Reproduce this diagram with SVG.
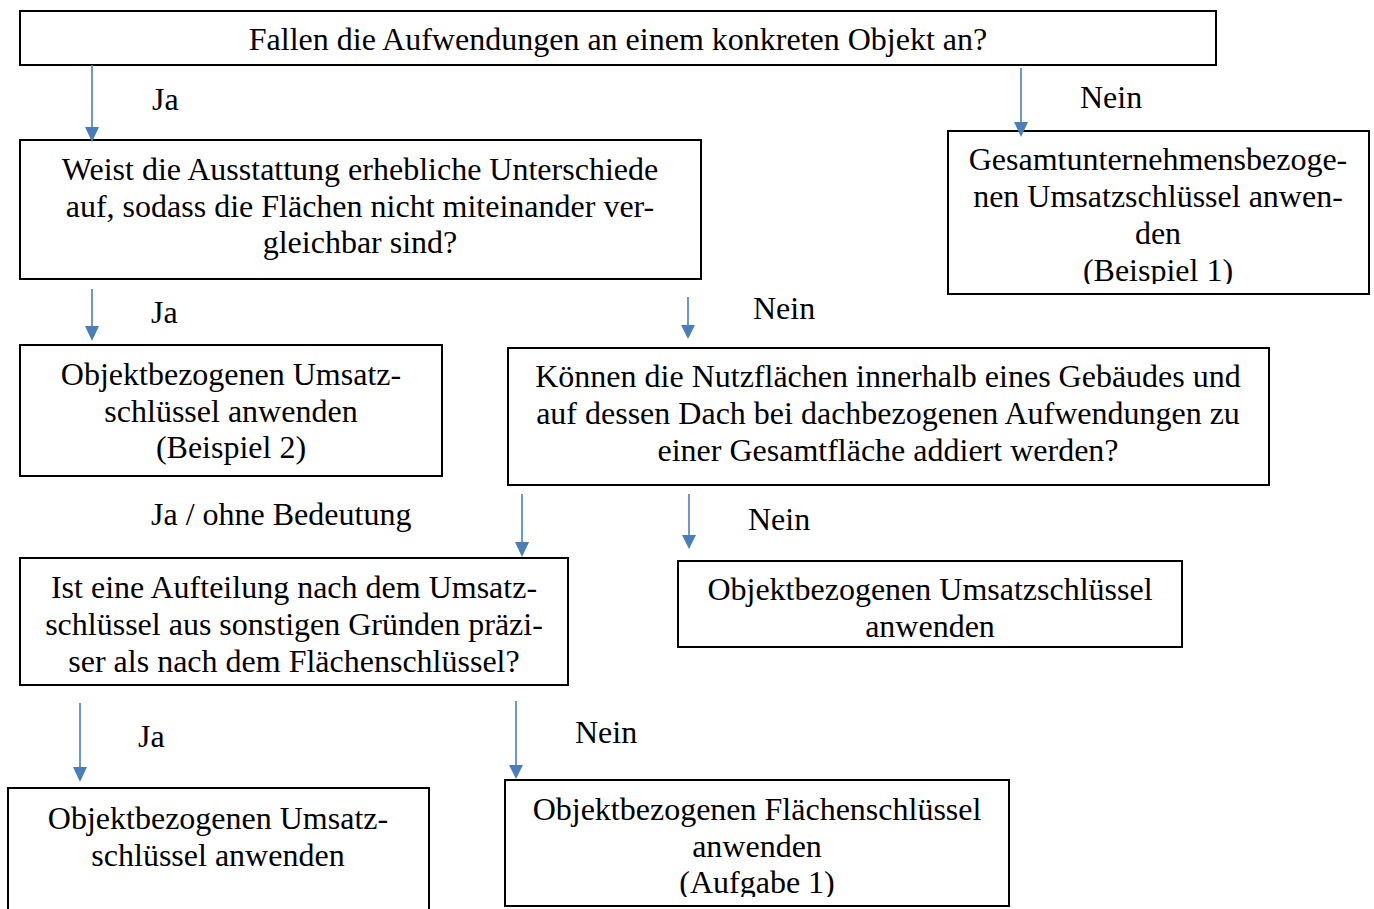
<svg xmlns="http://www.w3.org/2000/svg" width="1374" height="909" viewBox="0 0 1374 909">
<style>
.box{fill:#fff;stroke:#000;stroke-width:2}
.t{font-family:"Liberation Serif","Times New Roman",serif;font-size:32px;fill:#000}
.c{text-anchor:middle}
.arr{stroke:#4a7ebb;stroke-width:1.6;fill:none}
.head{fill:#4a7ebb}
</style>
<defs>
<clipPath id="clipG"><rect x="948" y="130" width="421" height="154"/></clipPath>
<clipPath id="clipF"><rect x="505" y="779" width="504" height="118"/></clipPath>
</defs>
<rect width="1374" height="909" fill="#fff"/>

<g id="n1">
<rect class="box" x="20" y="11" width="1196" height="54"/>
<text class="t c" x="618" y="50">Fallen die Aufwendungen an einem konkreten Objekt an?</text>
</g>

<g id="n2">
<rect class="box" x="20" y="140" width="681" height="139"/>
<text class="t c" x="360" y="180">Weist die Ausstattung erhebliche Unterschiede</text>
<text class="t c" x="360" y="217">auf, sodass die Flächen nicht miteinander ver-</text>
<text class="t c" x="360" y="253">gleichbar sind?</text>
</g>

<g id="n3">
<rect class="box" x="948" y="131" width="421" height="163"/>
<g clip-path="url(#clipG)">
<text class="t c" x="1158" y="170">Gesamtunternehmensbezoge-</text>
<text class="t c" x="1158" y="207">nen Umsatzschlüssel anwen-</text>
<text class="t c" x="1158" y="244">den</text>
<text class="t c" x="1158" y="281">(Beispiel 1)</text>
</g>
</g>

<g id="n4">
<rect class="box" x="20" y="345" width="422" height="131"/>
<text class="t c" x="231" y="385">Objektbezogenen Umsatz-</text>
<text class="t c" x="231" y="422">schlüssel anwenden</text>
<text class="t c" x="231" y="458">(Beispiel 2)</text>
</g>

<g id="n5">
<rect class="box" x="508" y="348" width="761" height="137"/>
<text class="t c" x="888" y="387">Können die Nutzflächen innerhalb eines Gebäudes und</text>
<text class="t c" x="888" y="424">auf dessen Dach bei dachbezogenen Aufwendungen zu</text>
<text class="t c" x="888" y="461">einer Gesamtfläche addiert werden?</text>
</g>

<g id="n6">
<rect class="box" x="20" y="558" width="548" height="127"/>
<text class="t c" x="294" y="598">Ist eine Aufteilung nach dem Umsatz-</text>
<text class="t c" x="294" y="635">schlüssel aus sonstigen Gründen präzi-</text>
<text class="t c" x="294" y="672">ser als nach dem Flächenschlüssel?</text>
</g>

<g id="n7">
<rect class="box" x="678" y="561" width="504" height="86"/>
<text class="t c" x="930" y="600">Objektbezogenen Umsatzschlüssel</text>
<text class="t c" x="930" y="637">anwenden</text>
</g>

<g id="n8">
<rect class="box" x="8" y="788" width="421" height="130"/>
<text class="t c" x="218" y="829">Objektbezogenen Umsatz-</text>
<text class="t c" x="218" y="866">schlüssel anwenden</text>
</g>

<g id="n9">
<rect class="box" x="505" y="780" width="504" height="126"/>
<g clip-path="url(#clipF)">
<text class="t c" x="757" y="820">Objektbezogenen Flächenschlüssel</text>
<text class="t c" x="757" y="857">anwenden</text>
<text class="t c" x="757" y="893">(Aufgabe 1)</text>
</g>
</g>

<g id="connectors">
<line class="arr" x1="92" y1="65" x2="92" y2="130"/>
<polygon class="head" points="85,127 99,127 92,142"/>
<line class="arr" x1="1021" y1="68" x2="1021" y2="125"/>
<polygon class="head" points="1014,122 1028,122 1021,137"/>
<line class="arr" x1="92" y1="289" x2="92" y2="330"/>
<polygon class="head" points="85,326 99,326 92,341"/>
<line class="arr" x1="688" y1="297" x2="688" y2="328"/>
<polygon class="head" points="681,325 695,325 688,339"/>
<line class="arr" x1="522" y1="494" x2="522" y2="545"/>
<polygon class="head" points="515,542 529,542 522,557"/>
<line class="arr" x1="689" y1="494" x2="689" y2="538"/>
<polygon class="head" points="682,535 696,535 689,549"/>
<line class="arr" x1="80" y1="703" x2="80" y2="770"/>
<polygon class="head" points="73,767 87,767 80,782"/>
<line class="arr" x1="516" y1="701" x2="516" y2="768"/>
<polygon class="head" points="509,765 523,765 516,779"/>
<text class="t" x="152" y="110">Ja</text>
<text class="t" x="1080" y="108">Nein</text>
<text class="t" x="151" y="323">Ja</text>
<text class="t" x="753" y="319">Nein</text>
<text class="t" x="151" y="525">Ja / ohne Bedeutung</text>
<text class="t" x="748" y="530">Nein</text>
<text class="t" x="138" y="747">Ja</text>
<text class="t" x="575" y="743">Nein</text>
</g>
</svg>
